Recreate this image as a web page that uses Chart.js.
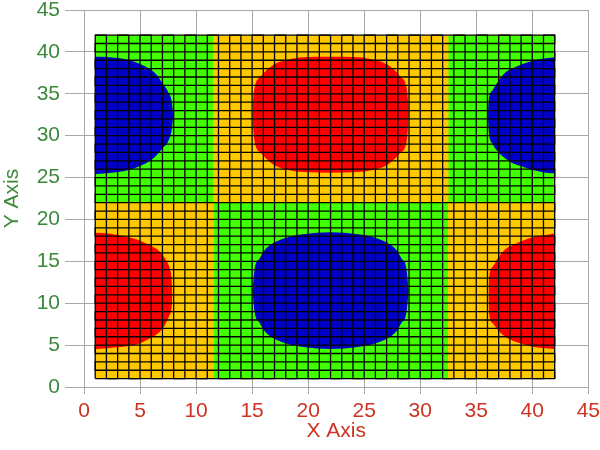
<!DOCTYPE html>
<html>
<head>
<meta charset="utf-8">
<script src="https://cdn.jsdelivr.net/npm/chart.js@4.4.0/dist/chart.umd.min.js"></script>
<style>
  html, body { margin: 0; padding: 0; background: #fff; }
</style>
</head>
<body>
<canvas id="chart" width="600" height="450"></canvas>
<script>
// mesh of the data cells
const gridX = [1,2,3,4,5,6,7,8,9,10,11,12,13,14,15,16,17,18,19,20,21,22,23,24,25,26,27,28,29,30,31,32,33,34,35,36,37,38,39,40,41,42];
const gridY = [1,2,3,4,5,6,7,8,9,10,11,12,13,14,15,16,17,18,19,20,21,22,23,24,25,26,27,28,29,30,31,32,33,34,35,36,37,38,39,40,41,42];

// where the green / orange levels change
const splitX = [11.55, 32.5];
const splitY = 22;

// blue blob, top left
const blueLeftX      = [1, 2, 3, 4, 5, 6, 6.5, 7, 7.5, 7.85, 7.96];
const blueLeftTop    = [39.42, 39.4, 39.27, 39.03, 38.55, 37.84, 37.24, 36.25, 35.25, 33.9, 32.4];
const blueLeftBottom = [25.42, 25.5, 25.66, 25.9, 26.38, 27.1, 27.7, 28.5, 29.3, 30.9, 32.4];

// red blob, top middle
const redTopX      = [15.03, 15.09, 15.24, 15.77, 16.87, 18.06, 19.54, 22, 24.46, 25.94, 27.13, 28.23, 28.76, 28.91, 28.97];
const redTopTop    = [32.6, 34.26, 35.85, 37.04, 38.43, 39.03, 39.35, 39.42, 39.35, 39.03, 38.43, 37.04, 35.85, 34.26, 32.6];
const redTopBottom = [32.6, 31.07, 29.15, 27.96, 26.57, 25.97, 25.65, 25.58, 25.65, 25.97, 26.57, 27.96, 29.15, 31.07, 32.6];

// blue blob, bottom middle
const blueMidX      = [15.03, 15.24, 15.68, 16.13, 16.87, 18.06, 19.54, 22, 24.46, 25.94, 27.13, 27.87, 28.32, 28.76, 28.97];
const blueMidTop    = [11.5, 14.17, 15.36, 16.35, 17.15, 17.82, 18.22, 18.46, 18.22, 17.82, 17.15, 16.35, 15.36, 14.17, 11.5];
const blueMidBottom = [11.5, 8.83, 7.64, 6.65, 5.85, 5.18, 4.78, 4.54, 4.78, 5.18, 5.85, 6.65, 7.64, 8.83, 11.5];

// blue blob, top right
const blueRightX      = [36.03, 36.12, 36.47, 36.92, 37.52, 38.26, 39.15, 40.04, 41.23, 42];
const blueRightTop    = [32.4, 34.26, 35.45, 36.44, 37.44, 38.04, 38.55, 38.95, 39.23, 39.35];
const blueRightBottom = [32.4, 30.5, 29.0, 28.1, 27.35, 26.7, 26.3, 25.9, 25.58, 25.5];

// red blob, bottom right
const redRightX      = [36.09, 36.15, 36.47, 36.92, 37.52, 38.26, 39.15, 40.04, 41.23, 42];
const redRightTop    = [10.8, 13.17, 14.36, 15.36, 16.35, 16.95, 17.47, 17.87, 18.14, 18.35];
const redRightBottom = [10.8, 8.7, 7.6, 6.8, 6.05, 5.53, 5.13, 4.81, 4.62, 4.5];

// red blob, bottom left
const redLeftX      = [1, 2.02, 3, 4, 5.02, 6.03, 6.77, 7.22, 7.6, 7.8, 7.9];
const redLeftTop    = [18.42, 18.34, 18.14, 17.87, 17.47, 16.83, 16.15, 15.36, 14.36, 13.17, 11.0];
const redLeftBottom = [4.5, 4.62, 4.74, 4.89, 5.22, 5.93, 6.6, 7.4, 8.5, 9.3, 11.0];

const axisTicks = [0, 5, 10, 15, 20, 25, 30, 35, 40, 45];

const BLUE = '#0000c8';
const RED = '#ff0000';
const GREEN = '#40ff00';
const ORANGE = '#ffc800';
const GRID = '#a8a8a8';
const X_RED = '#cc3322';
const Y_GREEN = '#3a8a3a';
const FAMILY = 'Liberation Sans, Arial, sans-serif';
const FONT = { family: FAMILY, size: 21, lineHeight: 1 };

function pts(xs, ys) {
    return xs.map((x, i) => ({ x: x, y: ys[i] }));
}

function area(xs, ys, color, fill) {
    return {
        data: pts(xs, ys),
        backgroundColor: color,
        borderWidth: 0,
        pointRadius: 0,
        fill: fill,
        cubicInterpolationMode: 'monotone'
    };
}

// blob = top curve filled down to the bottom curve (next dataset)
function blob(xs, top, bottom, color) {
    return [area(xs, top, color, '+1'), area(xs, bottom, color, false)];
}

// mesh drawn as two zig-zag lines, connectors lie on the outer frame
const x0 = gridX[0], x1 = gridX[gridX.length - 1];
const y0 = gridY[0], y1 = gridY[gridY.length - 1];
const meshV = [];
gridX.forEach((x, i) => {
    if (i % 2 === 0) meshV.push({ x: x, y: y0 }, { x: x, y: y1 });
    else meshV.push({ x: x, y: y1 }, { x: x, y: y0 });
});
const meshH = [];
gridY.forEach((y, i) => {
    if (i % 2 === 0) meshH.push({ x: x0, y: y }, { x: x1, y: y });
    else meshH.push({ x: x1, y: y }, { x: x0, y: y });
});

function mesh(data) {
    return { data: data, borderColor: '#000', borderWidth: 1.3, pointRadius: 0, fill: false, tension: 0, borderJoinStyle: 'miter' };
}

const datasets = [
    mesh(meshV),
    mesh(meshH),
    ...blob(blueLeftX, blueLeftTop, blueLeftBottom, BLUE),
    ...blob(redTopX, redTopTop, redTopBottom, RED),
    ...blob(blueMidX, blueMidTop, blueMidBottom, BLUE),
    ...blob(blueRightX, blueRightTop, blueRightBottom, BLUE),
    ...blob(redRightX, redRightTop, redRightBottom, RED),
    ...blob(redLeftX, redLeftTop, redLeftBottom, RED),
    area([x0, splitX[0]], [y1, y1], GREEN, { value: splitY }),
    area([splitX[1], x1], [y1, y1], GREEN, { value: splitY }),
    area([splitX[0], splitX[1]], [splitY, splitY], GREEN, { value: y0 }),
    area([x0, x1], [y1, y1], ORANGE, { value: y0 })
];

new Chart(document.getElementById('chart').getContext('2d'), {
    type: 'line',
    data: { datasets: datasets },
    options: {
        responsive: false,
        animation: false,
        devicePixelRatio: 1,
        layout: { padding: { left: 2, right: 0, top: 0, bottom: 8.5 } },
        plugins: { legend: { display: false }, tooltip: { enabled: false } },
        scales: {
            x: {
                type: 'linear', min: 0, max: 45,
                afterBuildTicks: (axis) => { axis.ticks = axisTicks.map(v => ({ value: v })); },
                ticks: { color: X_RED, font: { family: FAMILY, size: 21, lineHeight: 35 / 21 }, padding: 0, maxRotation: 0 },
                grid: { color: GRID, tickLength: 7 },
                border: { color: GRID },
                title: { display: true, text: 'X Axis', color: X_RED, font: FONT, padding: { top: -8.5, bottom: 0 } }
            },
            y: {
                type: 'linear', min: 0, max: 45,
                afterBuildTicks: (axis) => { axis.ticks = axisTicks.map(v => ({ value: v })); },
                ticks: { color: Y_GREEN, font: { family: FAMILY, size: 21, lineHeight: 10 / 21 }, padding: 5 },
                grid: { color: GRID, tickLength: 19 },
                border: { color: GRID },
                title: { display: true, text: 'Y Axis', color: Y_GREEN, font: FONT, padding: { top: 0, bottom: 8.65 } }
            }
        }
    }
});
</script>
</body>
</html>
